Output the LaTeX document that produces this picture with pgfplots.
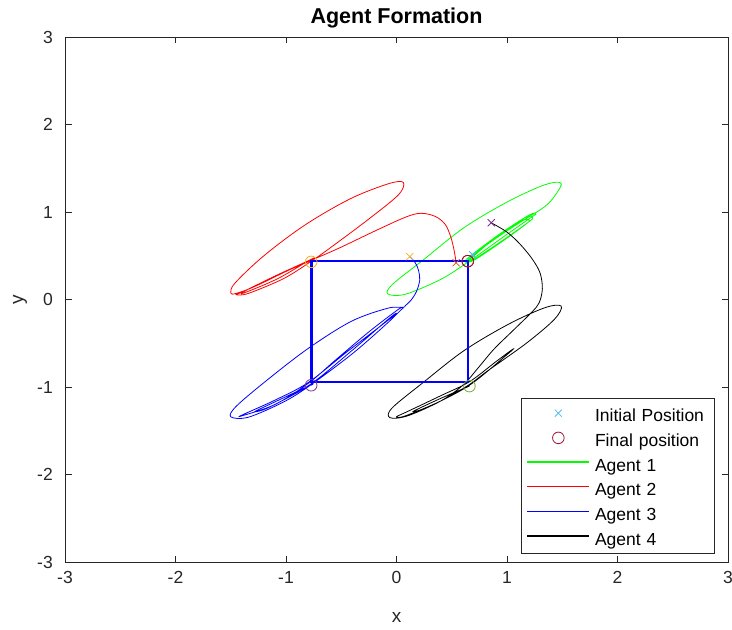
\documentclass[border=0pt]{standalone}
\usepackage{fontspec}
\setmainfont{Liberation Sans}
\usepackage{pgfplots}
\pgfplotsset{compat=1.18}
\definecolor{mlorange}{rgb}{0.85,0.325,0.098}
\definecolor{mlyellow}{rgb}{0.929,0.694,0.125}
\definecolor{mlpurple}{rgb}{0.494,0.184,0.556}
\definecolor{mlgreen}{rgb}{0.466,0.674,0.188}
\definecolor{mllightblue}{rgb}{0.301,0.745,0.933}
\definecolor{mldarkred}{rgb}{0.635,0.078,0.184}
\definecolor{axgray}{rgb}{0.15,0.15,0.15}
\definecolor{pblue}{rgb}{0,0,1}
\definecolor{pred}{rgb}{1,0,0}
\definecolor{pgreen}{rgb}{0,1,0}
\pgfplotsset{
  lineleg/.style={legend image code/.code={\draw[##1, line width=1.4pt] (0pt,9pt) -- (62pt,9pt);}},
  markleg/.style={legend image code/.code={\draw[##1] plot coordinates {(31pt,8.5pt)};}},
  traj/.style={line width=0.8pt, smooth, tension=0.55, mark=none},
  xm/.style={only marks, mark=x, mark size=5pt, line width=0.8pt},
  om/.style={only marks, mark=o, mark size=5.8pt, line width=0.8pt},
}
\begin{document}
\begin{tikzpicture}
\begin{axis}[
  at={(0pt,0pt)}, anchor=south west,
  scale only axis, width=663pt, height=525pt,
  xmin=-3, xmax=3, ymin=-3, ymax=3,
  xtick={-3,-2,-1,0,1,2,3}, ytick={-3,-2,-1,0,1,2,3},
  xticklabels={-3,-2,-1,0,1,2,3}, yticklabels={-3,-2,-1,0,1,2,3},
  tick align=inside, major tick length=6.5pt,
  axis line style={draw=axgray, line width=0.8pt},
  every tick/.style={draw=axgray, line width=0.8pt},
  tick label style={font=\fontsize{17.5}{20}\selectfont, text=axgray},
  xticklabel style={anchor=base, yshift=-21pt},
  yticklabel style={anchor=east, inner sep=0pt, xshift=-12pt},
  title={Agent Formation},
  title style={at={(axis description cs:0.5,1.0135)}, anchor=base, font=\fontsize{21.5}{24}\selectfont\bfseries, text=black},
  xlabel={x}, ylabel={y},
  xlabel style={at={(axis description cs:0.5,-0.1143)}, anchor=base, font=\fontsize{19}{22}\selectfont, text=axgray},
  ylabel style={at={(axis description cs:-0.0633,0.5)}, anchor=base, font=\fontsize{19}{22}\selectfont, text=axgray},
  legend style={at={(axis description cs:0.9794,0.0166)}, anchor=south east,
    draw=axgray, line width=0.6pt, fill=white,
    inner xsep=5pt, inner ysep=3.8pt, row sep=0.7pt, column sep=5pt,
    font=\fontsize{17.5}{20}\selectfont, text=black,
    nodes={inner sep=0pt, anchor=base west, text height=20pt, text depth=4pt, text width=114pt}},
]
% legend markers (agent 1)
\addplot[xm, color=mllightblue, markleg] coordinates {(0.69,0.51)};
\addlegendentry{Initial Position}
\addplot[om, color=mldarkred, markleg] coordinates {(0.645,0.438)};
\addlegendentry{Final position}
% Agent 1
\addplot[traj, color=pgreen, lineleg] coordinates {
(0.69,0.51)(0.80,0.61)(1.00,0.785)(1.18,0.93)(1.34,1.06)(1.43,1.18)(1.49,1.33)
(1.34,1.31)(1.01,1.12)(0.61,0.82)(0.24,0.45)(-0.03,0.18)(-0.08,0.065)
(0.08,0.06)(0.40,0.23)(0.65,0.43)(0.95,0.70)(1.22,0.94)(1.26,0.975)
(1.20,0.965)(0.93,0.745)(0.66,0.49)(0.62,0.43)(0.69,0.45)(0.96,0.675)
(1.20,0.89)(1.23,0.935)(1.17,0.94)(0.91,0.725)(0.66,0.47)(0.64,0.432)
(0.71,0.455)(0.97,0.675)(1.18,0.87)(1.20,0.905)(1.13,0.90)(0.89,0.70)
(0.67,0.465)(0.645,0.438)};
\addlegendentry{Agent 1}
% Agent 2
\addplot[traj, color=pred, lineleg] coordinates {
(0.54,0.42)(0.52,0.57)(0.49,0.72)(0.44,0.86)(0.35,0.95)(0.22,0.985)(0.08,0.94)
(-0.20,0.78)(-0.55,0.57)(-0.95,0.35)(-1.28,0.15)(-1.45,0.07)(-1.50,0.075)
(-1.46,0.19)(-1.20,0.50)(-0.83,0.85)(-0.42,1.15)(-0.08,1.32)(0.06,1.34)
(0.02,1.20)(-0.24,0.93)(-0.60,0.59)(-0.78,0.43)(-1.02,0.24)(-1.34,0.07)
(-1.45,0.055)(-1.38,0.095)(-1.08,0.28)(-0.82,0.43)(-0.74,0.48)(-0.80,0.44)
(-1.08,0.235)(-1.38,0.075)(-1.36,0.105)(-1.06,0.29)(-0.80,0.43)(-0.772,0.43)};
\addlegendentry{Agent 2}
% Agent 3
\addplot[traj, color=pblue, lineleg] coordinates {
(0.12,0.49)(0.17,0.42)(0.20,0.33)(0.21,0.22)(0.18,0.09)(0.13,-0.01)(0.08,-0.07)
(0.06,-0.09)(-0.08,-0.10)(-0.41,-0.25)(-0.80,-0.56)(-1.18,-0.93)(-1.45,-1.22)
(-1.50,-1.34)(-1.34,-1.345)(-1.02,-1.17)(-0.78,-0.98)(-0.40,-0.62)(-0.10,-0.29)
(0.04,-0.12)(0.06,-0.10)(0.02,-0.11)(-0.25,-0.37)(-0.55,-0.69)(-0.80,-0.96)
(-1.10,-1.20)(-1.40,-1.33)(-1.38,-1.31)(-1.10,-1.15)(-0.80,-0.95)(-0.45,-0.60)
(-0.10,-0.26)(0.00,-0.16)(-0.06,-0.21)(-0.40,-0.58)(-0.78,-0.97)(-1.15,-1.23)
(-1.28,-1.28)(-1.10,-1.17)(-0.78,-0.98)(-0.772,-0.98)};
\addlegendentry{Agent 3}
% Agent 4
\addplot[traj, color=black, lineleg] coordinates {
(0.857,0.877)(1.00,0.77)(1.12,0.63)(1.23,0.46)(1.30,0.30)(1.32,0.12)(1.29,-0.04)
(1.22,-0.15)(1.05,-0.36)(0.88,-0.57)(0.74,-0.78)(0.60,-0.98)(0.40,-1.16)
(0.10,-1.33)(-0.06,-1.35)(-0.04,-1.24)(0.24,-0.95)(0.61,-0.585)(1.01,-0.285)
(1.34,-0.095)(1.49,-0.075)(1.43,-0.225)(1.18,-0.495)(0.82,-0.82)(0.65,-0.98)
(0.40,-1.16)(0.08,-1.33)(0.00,-1.34)(0.10,-1.28)(0.40,-1.10)(0.66,-0.94)
(0.90,-0.71)(1.05,-0.57)(1.00,-0.63)(0.66,-0.98)(0.30,-1.22)(0.15,-1.28)
(0.40,-1.13)(0.66,-0.99)};
\addlegendentry{Agent 4}
% formation rectangle
\addplot[color=pblue, line width=2.3pt, mark=none, forget plot, line join=miter] coordinates {
(-0.77,0.44)(0.645,0.44)(0.645,-0.945)(-0.77,-0.945)(-0.77,0.44)(0.645,0.44)};
% other markers
\addplot[xm, color=mlorange, forget plot] coordinates {(0.54,0.42)};
\addplot[om, color=mlyellow, forget plot] coordinates {(-0.772,0.43)};
\addplot[xm, color=mlyellow, forget plot] coordinates {(0.12,0.49)};
\addplot[om, color=mlpurple, forget plot] coordinates {(-0.772,-0.98)};
\addplot[xm, color=mlpurple, forget plot] coordinates {(0.857,0.877)};
\addplot[om, color=mlgreen, forget plot] coordinates {(0.66,-0.99)};
\addplot[xm, color=mllightblue, forget plot] coordinates {(0.69,0.51)};
\addplot[om, color=mldarkred, forget plot] coordinates {(0.645,0.438)};
\end{axis}
\pgfresetboundingbox
\path[use as bounding box] (-65pt,-68pt) rectangle (667pt,562pt);
\end{tikzpicture}
\end{document}
